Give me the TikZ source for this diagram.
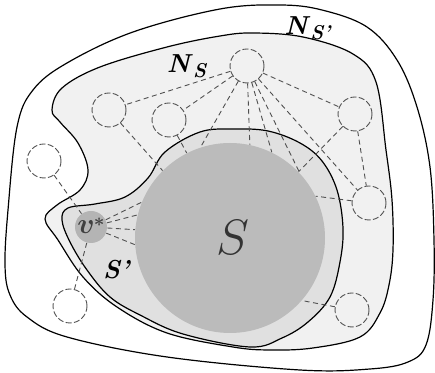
\documentclass[tikz,border=0pt]{standalone}
\usepackage{bm}
\definecolor{nsgray}{HTML}{F1F1F1}
\definecolor{spgray}{HTML}{E0E0E0}
\definecolor{sgray}{HTML}{BBBBBB}
\definecolor{vgray}{HTML}{B4B4B4}
\definecolor{linkgray}{HTML}{505050}
\newcommand{\setsub}[1]{\raisebox{-0.45ex}{\fontsize{10}{12}\selectfont\textbf{\textit{#1}}}}
\tikzset{
  vertex/.style={circle, draw=linkgray, dash pattern=on 3pt off 1.2pt, line width=0.45pt, minimum size=17pt, inner sep=0pt},
  link/.style={draw=linkgray, dash pattern=on 2.5pt off 1.8pt, line width=0.45pt},
  border/.style={draw=black, line width=0.6pt},
  setlabel/.style={font=\fontsize{13}{15}\selectfont, inner sep=0pt},
}
\begin{document}
\begin{tikzpicture}[x=0.5pt,y=-0.5pt]
\useasboundingbox (0,0) rectangle (435,373);

% outer region N_S'
\draw[border] plot[smooth cycle, tension=0.6] coordinates {
  (17,127) (33,90) (67,63) (133,32) (220,9) (280,5) (322,10) (367,27)
  (397,60) (417,107) (430,167) (434,240) (433,300) (426,345) (408,362)
  (370,369) (300,370) (167,357) (67,337) (27,317) (10,295) (5,265) (8,210)};

% region N_S
\draw[border, fill=nsgray] plot[smooth cycle, tension=0.6] coordinates {
  (52,110) (62,88) (100,67) (167,47) (220,36) (253,33) (303,37) (353,54)
  (376,82) (386,150) (392,200) (393,250) (389,285) (380,313) (360,337)
  (313,348) (270,350) (233,347) (167,333) (117,307) (83,277) (58,240)
  (45,219) (57,205) (80,190) (88,170) (78,143) (60,122)};

% region S'
\draw[border, fill=spgray] plot[smooth cycle, tension=0.6] coordinates {
  (233,129) (200,132) (165,152) (148,178) (125,197) (95,204) (68,208)
  (62,220) (70,242) (87,270) (110,297) (140,315) (183,334) (250,347)
  (282,338) (308,322) (330,297) (340,262) (343,228) (337,190) (322,161)
  (300,143) (268,131)};

% set S
\node[circle, fill=sgray, minimum size=95pt, inner sep=0pt] (S) at (230,238) {};
\node[text=black!80] (Slabel) at (233,238) {\Huge $S$};

% nodes
\node[vertex] (top) at (247,66) {};
\node[vertex] (a) at (109,110) {};
\node[vertex] (b) at (169,120) {};
\node[vertex] (rtop) at (355,114) {};
\node[vertex] (rmid) at (369,203) {};
\node[vertex] (rbot) at (352,310) {};
\node[vertex] (lout) at (44,161) {};
\node[vertex] (lbot) at (70,306) {};
\node[circle, fill=vgray, minimum size=16pt, inner sep=0pt] (v) at (91,227) {};
\node[text=black!75, font=\fontsize{14}{15}\selectfont, inner sep=0pt] (vlabel) at (91,226) {$\bm{v}$\kern-0.5pt\raisebox{0.6ex}{\fontsize{9}{10}\selectfont$\bm{*}$}};

% edges
\draw[link] (top) -- (a);
\draw[link] (top) -- (b);
\draw[link] (top) -- (rtop);
\draw[link] (top) -- (rmid);
\draw[link] (top) -- (S.108);
\draw[link] (top) -- (S.78);
\draw[link] (top) -- (S.64);
\draw[link] (top) -- (S.43);
\draw[link] (a) -- (S.135);
\draw[link] (b) -- (S.117);
\draw[link] (rtop) -- (rmid);
\draw[link] (rtop) -- (S.44);
\draw[link] (rmid) -- (S.26);
\draw[link] (rbot) -- (S.-41);
\draw[link] (lout) -- (v);
\draw[link] (v) -- (lbot);
\foreach \ang in {158,166,175,184}
  \draw[link] (v) -- (S.\ang);

% labels
\node[setlabel] (NS) at (187,66) {\textbf{\textit{N}}\setsub{S}};
\node[setlabel] (NSp) at (308,28) {\textbf{\textit{N}}\setsub{S'}};
\node[setlabel] (Sp) at (117,270) {\textbf{\textit{S'}}};

\end{tikzpicture}
\end{document}
